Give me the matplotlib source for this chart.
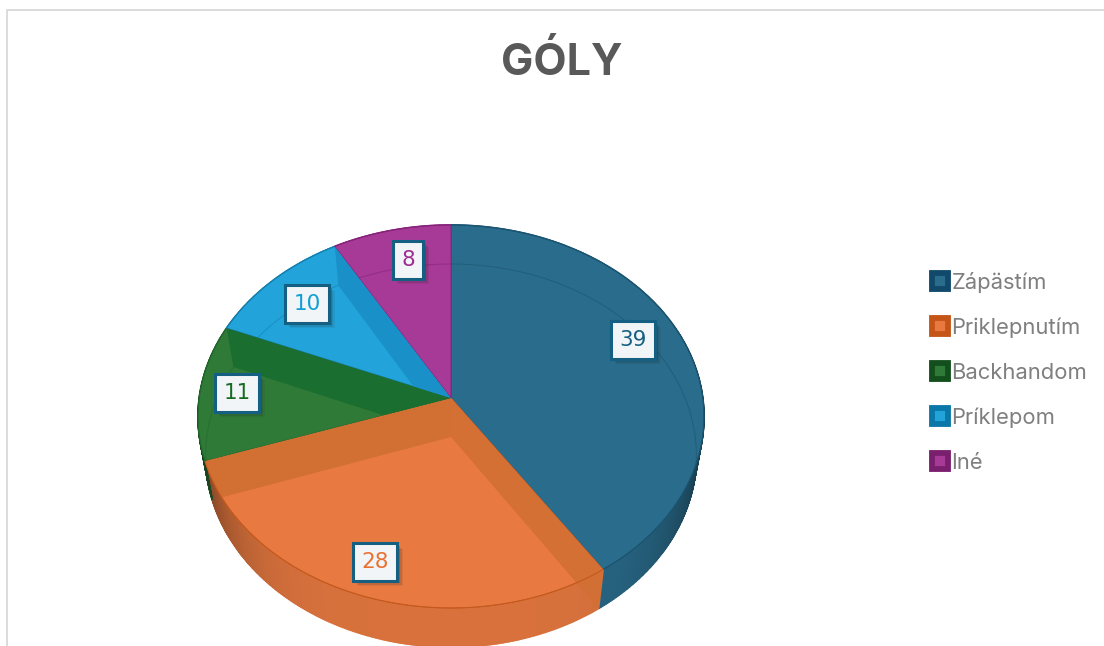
import numpy as np
import matplotlib
matplotlib.use("Agg")
import matplotlib.pyplot as plt
from matplotlib.lines import Line2D
from matplotlib.patches import Polygon
import matplotlib.patheffects as pe

title = "GÓLY"
categories = ["Zápästím", "Priklepnutím", "Backhandom", "Príklepom", "Iné"]
values = [39, 28, 11, 10, 8]

fill_colors = ["#2A6C8C", "#E87A41", "#307A38", "#22A4DA", "#A63A96"]
band_colors = ["#24617F", "#D26F33", "#1A6E30", "#1A90C8", "#963088"]
line_colors = ["#1B5470", "#C55A1E", "#1F6A2B", "#1580B0", "#84237A"]
text_colors = ["#156082", "#E97132", "#196B24", "#0F9ED5", "#A02B93"]
legend_colors = ["#10496A", "#C55517", "#124F1C", "#0A77A8", "#7A1F6E"]

# where the labels sit, in pixels
label_pos = [(633, 340), (375, 562), (237, 393), (307, 304), (408, 260)]

CX, CY = 451, 398
SX, SY = 251.8, 189.7
K = 0.0966
DEPTH = 39
BOTTOM_SX = 0.97


def project(angle, r=1.0, bottom=False):
    # angle in radians clockwise from 12 o'clock, slight perspective on the disc
    u = r * np.sin(angle)
    v = r * np.cos(angle)
    w = 1 + K * v
    sx = SX * BOTTOM_SX if bottom else SX
    x = CX + sx * u / w
    y = CY - SY * v / w + (DEPTH if bottom else 0)
    return x, y


def rim(a0, a1, bottom=False, n=80):
    t = np.linspace(a0, a1, n)
    x, y = project(t, bottom=bottom)
    return np.column_stack([x, y])


def shade(color, f):
    return tuple(np.array(matplotlib.colors.to_rgb(color)) * f)


fig = plt.figure(figsize=(11.04, 6.46), dpi=100)
ax = fig.add_axes([0, 0, 1, 1])
ax.set_xlim(0, 1104)
ax.set_ylim(646, 0)
ax.axis("off")

# chart area border, cut off by the screenshot
ax.plot([7, 7, 1104], [646, 10, 10], color="#D9D9D9", lw=1.3, zorder=1)

total = sum(values)
edges = np.concatenate([[0], np.cumsum(values)]) / total * 2 * np.pi

# outer wall, split in strips so it darkens towards the sides
for i in range(len(values)):
    steps = max(int((edges[i + 1] - edges[i]) * 120), 2)
    t = np.linspace(edges[i], edges[i + 1], steps + 1)
    for a0, a1 in zip(t[:-1], t[1:]):
        top = rim(a0, a1, n=3)
        bot = rim(a0, a1, bottom=True, n=3)
        f = 0.93 - 0.42 * abs(np.sin((a0 + a1) / 2)) ** 5
        col = shade(fill_colors[i], f)
        ax.add_patch(Polygon(np.vstack([top, bot[::-1]]), closed=True, fc=col, ec=col, lw=1.2, zorder=2))

# top surface
wedges = []
for i in range(len(values)):
    pts = np.vstack([[CX, CY], rim(edges[i], edges[i + 1])])
    w = Polygon(pts, closed=True, fc=fill_colors[i], ec=line_colors[i], lw=0.6, zorder=3)
    ax.add_patch(w)
    wedges.append(w)

# cut faces seen through the glass
for i in range(1, len(values)):
    a = edges[i]
    x_top, y_top = project(a)
    x_bot, y_bot = project(a, bottom=True)
    quad = [[CX, CY], [x_top, y_top], [x_bot, y_bot], [CX, CY + DEPTH]]
    owner = i if x_top > CX else i - 1
    face = Polygon(quad, closed=True, fc=band_colors[owner], ec="none", zorder=4,
                   alpha=0.85 if x_top > CX else 1)
    ax.add_patch(face)
    if x_top < CX:
        face.set_clip_path(wedges[owner])

# thin lines of the bottom disc and of the front rim
for i in range(len(values)):
    pts = rim(edges[i], edges[i + 1], bottom=True)
    line = ax.plot(pts[:, 0], pts[:, 1], color=line_colors[i], lw=0.7, alpha=0.6, zorder=5)[0]
    line.set_clip_path(wedges[i])
    pts = rim(edges[i], edges[i + 1])
    ax.plot(pts[:, 0], pts[:, 1], color=line_colors[i], lw=0.8, zorder=5)

# data labels
for (x, y), val, col in zip(label_pos, values, text_colors):
    t = ax.text(x, y, str(val), ha="center", va="center", fontsize=15.5, color=col,
                family="DejaVu Sans", zorder=7,
                bbox=dict(boxstyle="square,pad=0.4", fc="#F2F5F7", ec="#156082", lw=2.2))
    t.get_bbox_patch().set_path_effects([
        pe.SimplePatchShadow(offset=(4, -4), shadow_rgbFace="#202020", alpha=0.08),
        pe.SimplePatchShadow(offset=(3, -3), shadow_rgbFace="#202020", alpha=0.12),
        pe.SimplePatchShadow(offset=(2, -2), shadow_rgbFace="#202020", alpha=0.18),
        pe.Normal()])

ax.text(562, 63, title, ha="center", va="center", fontsize=31, fontweight="bold",
        color="#595959", family="Inter", zorder=8)

handles = [Line2D([], [], ls="none", marker="s", ms=11.5, mew=4.2, mec=mc, mfc=fc)
           for mc, fc in zip(legend_colors, fill_colors)]
ax.legend(handles, categories, loc="center left", bbox_to_anchor=(0.8415, 0.4238), frameon=False,
          labelcolor="#7F7F7F", labelspacing=1.13, handlelength=1.0,
          handletextpad=0.02, borderpad=0, borderaxespad=0,
          prop={"family": "Inter", "size": 15.8})

fig.savefig("out.png", dpi=100, facecolor="white")
